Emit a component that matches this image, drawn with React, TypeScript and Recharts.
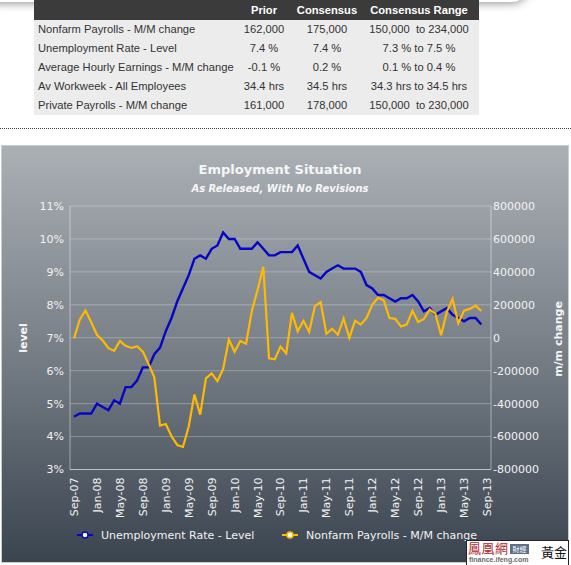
import { CartesianGrid, Line, LineChart, XAxis, YAxis } from "recharts";

// tick labels shown along the time axis (one per month, last one has no data yet)
const months = [
  "Sep-07", "Oct-07", "Nov-07", "Dec-07",
  "Jan-08", "Feb-08", "Mar-08", "Apr-08", "May-08", "Jun-08", "Jul-08", "Aug-08", "Sep-08", "Oct-08", "Nov-08", "Dec-08",
  "Jan-09", "Feb-09", "Mar-09", "Apr-09", "May-09", "Jun-09", "Jul-09", "Aug-09", "Sep-09", "Oct-09", "Nov-09", "Dec-09",
  "Jan-10", "Feb-10", "Mar-10", "Apr-10", "May-10", "Jun-10", "Jul-10", "Aug-10", "Sep-10", "Oct-10", "Nov-10", "Dec-10",
  "Jan-11", "Feb-11", "Mar-11", "Apr-11", "May-11", "Jun-11", "Jul-11", "Aug-11", "Sep-11", "Oct-11", "Nov-11", "Dec-11",
  "Jan-12", "Feb-12", "Mar-12", "Apr-12", "May-12", "Jun-12", "Jul-12", "Aug-12", "Sep-12", "Oct-12", "Nov-12", "Dec-12",
  "Jan-13", "Feb-13", "Mar-13", "Apr-13", "May-13", "Jun-13", "Jul-13", "Aug-13", "Sep-13",
];

// unemployment rate, %, as released
const unemployment = [
  4.6, 4.7, 4.7, 4.7, 5.0, 4.9, 4.8, 5.1, 5.0, 5.5, 5.5, 5.7,
  6.1, 6.1, 6.5, 6.7, 7.2, 7.6, 8.1, 8.5, 8.9, 9.4, 9.5, 9.4,
  9.7, 9.8, 10.2, 10.0, 10.0, 9.7, 9.7, 9.7, 9.9, 9.7, 9.5, 9.5,
  9.6, 9.6, 9.6, 9.8, 9.4, 9.0, 8.9, 8.8, 9.0, 9.1, 9.2, 9.1,
  9.1, 9.1, 9.0, 8.6, 8.5, 8.3, 8.3, 8.2, 8.1, 8.2, 8.2, 8.3,
  8.1, 7.8, 7.9, 7.7, 7.8, 7.9, 7.7, 7.6, 7.5, 7.6, 7.6, 7.4,
];

// nonfarm payrolls, m/m change, as released
const payrolls = [
  -4000, 110000, 166000, 94000, 18000, -17000, -63000, -80000, -20000, -49000, -62000, -51000,
  -84000, -159000, -240000, -533000, -524000, -598000, -651000, -663000, -539000, -345000, -467000, -247000,
  -216000, -263000, -190000, -11000, -85000, -20000, -36000, 162000, 290000, 431000, -125000, -131000,
  -54000, -95000, 151000, 39000, 103000, 36000, 192000, 216000, 24400, 54000, 18000, 117000,
  0, 103000, 80000, 120000, 200000, 243000, 227000, 120000, 115000, 69000, 80000, 163000,
  96000, 114000, 171000, 146000, 15500, 157000, 236000, 88000, 165000, 175000, 195000, 162000,
];

const rateTicks = [3, 4, 5, 6, 7, 8, 9, 10, 11];
const payrollTicks = [-800000, -600000, -400000, -200000, 0, 200000, 400000, 600000, 800000];

const rowLabels = [
  "Nonfarm Payrolls - M/M change",
  "Unemployment Rate - Level",
  "Average Hourly Earnings - M/M change",
  "Av Workweek - All Employees",
  "Private Payrolls - M/M change",
];
const priorValues = ["162,000", "7.4 %", "-0.1 %", "34.4 hrs", "161,000"];
const consensusValues = ["175,000", "7.4 %", "0.2 %", "34.5 hrs", "178,000"];
const rangeValues = [
  "150,000  to 234,000",
  "7.3 % to 7.5 %",
  "0.1 % to 0.4 %",
  "34.3 hrs to 34.5 hrs",
  "150,000  to 230,000",
];

const data = months.map((month, i) => ({
  month,
  rate: unemployment[i] ?? null,
  payrolls: payrolls[i] ?? null,
}));

const BLUE = "#0606c4";
const GOLD = "#ffb900";
const AXIS_FONT = "'DejaVu Sans', Verdana, sans-serif";

function MonthTick({ x, y, payload }: any) {
  return (
    <text
      x={x}
      y={y}
      transform={`rotate(-90 ${x} ${y})`}
      textAnchor="end"
      dy="0.36em"
      fill="#f2f2f2"
      fontSize={11}
      fontFamily={AXIS_FONT}
    >
      {payload.value}
    </text>
  );
}

function LegendItem({ left, color, label }: { left: number; color: string; label: string }) {
  return (
    <div style={{ position: "absolute", left, top: 527, height: 16, display: "flex", alignItems: "center" }}>
      <svg width={16} height={16}>
        <line x1={0} y1={8} x2={16} y2={8} stroke={color} strokeWidth={2} />
        <circle cx={8} cy={8} r={3} fill="#fff" stroke={color} strokeWidth={1.5} />
      </svg>
      <span style={{ marginLeft: 8, color: "#f2f2f2", fontSize: 11, fontFamily: AXIS_FONT, whiteSpace: "nowrap" }}>
        {label}
      </span>
    </div>
  );
}

export default function App() {
  const cell = { padding: 0, height: 19, lineHeight: "19px" } as const;
  const head = { ...cell, height: 20, lineHeight: "20px", textAlign: "center" } as const;

  return (
    <div
      style={{
        position: "absolute",
        left: 0,
        top: 0,
        width: 571,
        height: 565,
        overflow: "hidden",
        background: "#fff",
        fontFamily: "Arial, 'Liberation Sans', sans-serif",
      }}
    >
      {/* shadow of the box above */}
      <div
        style={{
          position: "absolute",
          left: -20,
          top: -38,
          width: 548,
          height: 40,
          borderRadius: 16,
          boxShadow: "0 1px 10px rgba(0,0,0,0.45)",
          background: "#fff",
        }}
      />

      <table
        style={{
          position: "absolute",
          left: 34,
          top: 0,
          width: 445,
          borderCollapse: "collapse",
          tableLayout: "fixed",
          fontSize: 11.2,
          color: "#333",
        }}
      >
        <colgroup>
          <col style={{ width: 199 }} />
          <col style={{ width: 62 }} />
          <col style={{ width: 64 }} />
          <col style={{ width: 120 }} />
        </colgroup>
        <thead>
          <tr style={{ background: "#3b3b3b", color: "#fff", fontWeight: "bold" }}>
            <th style={head} />
            <th style={head}>Prior</th>
            <th style={head}>Consensus</th>
            <th style={head}>Consensus Range</th>
          </tr>
        </thead>
        <tbody style={{ background: "#ececec" }}>
          {rowLabels.map((label, i) => (
            <tr key={label}>
              <td style={{ ...cell, paddingLeft: 4, whiteSpace: "nowrap" }}>{label}</td>
              <td style={{ ...cell, textAlign: "center" }}>{priorValues[i]}</td>
              <td style={{ ...cell, textAlign: "center" }}>{consensusValues[i]}</td>
              <td style={{ ...cell, textAlign: "center", whiteSpace: "pre" }}>{rangeValues[i]}</td>
            </tr>
          ))}
        </tbody>
      </table>

      <div style={{ position: "absolute", left: 0, top: 128, width: 571, borderTop: "1px dotted #444" }} />

      <div
        style={{
          position: "absolute",
          left: 1,
          top: 145,
          width: 568,
          height: 418,
          background: "linear-gradient(to bottom, #abb0b5 0%, #7c838b 45%, #3a444f 100%)",
          boxShadow: "inset 0 0 0 1px #c9cdd1",
        }}
      >
        <LineChart
          width={568}
          height={418}
          data={data}
          margin={{ top: 61, right: 0, bottom: 0, left: 0 }}
        >
          <CartesianGrid
            yAxisId="left"
            vertical={false}
            stroke="rgba(255,255,255,0.28)"
            strokeWidth={1}
          />
          <XAxis
            dataKey="month"
            interval={3}
            padding={{ left: 4, right: 4 }}
            height={93.5}
            tickLine={false}
            axisLine={{ stroke: "rgba(255,255,255,0.45)" }}
            tick={<MonthTick />}
          />
          <YAxis
            yAxisId="left"
            orientation="left"
            width={69}
            domain={[3, 11]}
            ticks={rateTicks}
            tickFormatter={(v: number) => `${v}%`}
            tickLine={false}
            tickSize={4}
            tickMargin={2}
            axisLine={{ stroke: "rgba(255,255,255,0.45)" }}
            tick={{ fill: "#f2f2f2", fontSize: 11, fontFamily: AXIS_FONT }}
          />
          <YAxis
            yAxisId="right"
            orientation="right"
            width={78}
            domain={[-800000, 800000]}
            ticks={payrollTicks}
            tickLine={false}
            tickSize={1}
            tickMargin={1}
            axisLine={{ stroke: "rgba(255,255,255,0.45)" }}
            tick={{ fill: "#f2f2f2", fontSize: 11, fontFamily: AXIS_FONT, textAnchor: "start" }}
          />
          <Line
            yAxisId="left"
            dataKey="rate"
            type="linear"
            stroke={BLUE}
            strokeWidth={2.4}
            dot={false}
            isAnimationActive={false}
          />
          <Line
            yAxisId="right"
            dataKey="payrolls"
            type="linear"
            stroke={GOLD}
            strokeWidth={2.2}
            dot={false}
            isAnimationActive={false}
          />
        </LineChart>
      </div>

      {/* titles */}
      <div
        style={{
          position: "absolute",
          left: 0,
          width: 560,
          top: 162,
          textAlign: "center",
          color: "#f6f6f6",
          fontFamily: AXIS_FONT,
          fontWeight: "bold",
          fontSize: 13,
          lineHeight: "16px",
        }}
      >
        Employment Situation
      </div>
      <div
        style={{
          position: "absolute",
          left: 0,
          width: 560,
          top: 182,
          textAlign: "center",
          color: "#f6f6f6",
          fontFamily: AXIS_FONT,
          fontWeight: "bold",
          fontStyle: "italic",
          fontSize: 10,
          lineHeight: "13px",
        }}
      >
        As Released, With No Revisions
      </div>

      {/* axis titles */}
      <svg style={{ position: "absolute", left: 0, top: 0 }} width={571} height={565}>
        <text
          x={23}
          y={338}
          transform="rotate(-90 23 338)"
          textAnchor="middle"
          dy="0.36em"
          fill="#f6f6f6"
          fontWeight="bold"
          fontSize={11}
          fontFamily={AXIS_FONT}
        >
          level
        </text>
        <text
          x={558}
          y={339}
          transform="rotate(-90 558 339)"
          textAnchor="middle"
          dy="0.36em"
          fill="#f6f6f6"
          fontWeight="bold"
          fontSize={11}
          fontFamily={AXIS_FONT}
        >
          m/m change
        </text>
      </svg>

      <LegendItem left={77} color={BLUE} label="Unemployment Rate - Level" />
      <LegendItem left={282} color={GOLD} label="Nonfarm Payrolls - M/M change" />

      {/* source badge */}
      <div
        style={{
          position: "absolute",
          left: 466,
          top: 540,
          width: 103,
          height: 26,
          background: "#fff",
          border: "1px solid #222",
          boxSizing: "border-box",
        }}
      >
        <div
          style={{
            position: "absolute",
            left: 1,
            top: -1,
            fontFamily: "'Noto Sans CJK TC', serif",
            fontSize: 13,
            lineHeight: "16px",
            color: "#b3262c",
            letterSpacing: 0.5,
          }}
        >
          鳳凰網
        </div>
        <div
          style={{
            position: "absolute",
            left: 43,
            top: 3,
            width: 19,
            height: 10,
            background: "#5d6f86",
            color: "#fff",
            fontFamily: "'Noto Sans CJK TC', sans-serif",
            fontSize: 7,
            lineHeight: "10px",
            textAlign: "center",
          }}
        >
          財經
        </div>
        <div
          style={{
            position: "absolute",
            left: 2,
            top: 15,
            fontFamily: "Arial, sans-serif",
            fontWeight: "bold",
            fontSize: 7,
            lineHeight: "8px",
            color: "#6a6a6a",
          }}
        >
          finance.ifeng.com
        </div>
        <div
          style={{
            position: "absolute",
            left: 74,
            top: 2,
            fontFamily: "'Noto Sans CJK TC', sans-serif",
            fontSize: 13,
            lineHeight: "17px",
            color: "#111",
          }}
        >
          黃金
        </div>
      </div>
    </div>
  );
}
